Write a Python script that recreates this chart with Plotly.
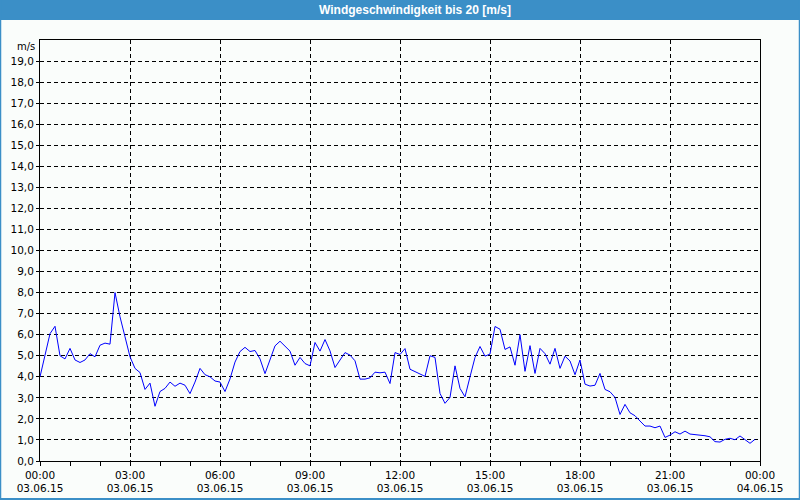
import pandas as pd
import plotly.graph_objects as go

# ---- data ----
start_time = "2015-06-03 00:00"
n_points = 144
wind_speed = [
    4.0, 5.1, 6.05, 6.4, 5.0, 4.85, 5.35, 4.8, 4.68, 4.8, 5.1, 4.95,
    5.5, 5.6, 5.55, 8.0, 6.85, 5.9, 4.95, 4.4, 4.2, 3.4, 3.7, 2.6,
    3.3, 3.45, 3.75, 3.55, 3.7, 3.6, 3.2, 3.75, 4.4, 4.1, 4.0, 3.8,
    3.75, 3.3, 3.9, 4.7, 5.2, 5.4, 5.2, 5.25, 4.85, 4.15, 4.8, 5.47,
    5.69, 5.45, 5.22, 4.55, 4.92, 4.63, 4.52, 5.63, 5.22, 5.77, 5.23, 4.44,
    4.79, 5.15, 5.03, 4.76, 3.89, 3.89, 3.95, 4.22, 4.19, 4.22, 3.68, 5.15,
    5.06, 5.34, 4.36, 4.24, 4.14, 4.02, 5.0, 4.92, 3.21, 2.74, 3.02, 4.52,
    3.45, 3.05, 4.0, 4.92, 5.44, 4.98, 5.08, 6.39, 6.26, 5.3, 5.42, 4.55,
    6.0, 4.26, 5.48, 4.16, 5.35, 5.1, 4.6, 5.35, 4.4, 4.98, 4.75, 4.1,
    4.8, 3.65, 3.56, 3.6, 4.16, 3.4, 3.29, 3.02, 2.21, 2.69, 2.29, 2.15,
    1.9, 1.66, 1.66, 1.58, 1.66, 1.12, 1.23, 1.39, 1.28, 1.42, 1.28, 1.26,
    1.23, 1.2, 1.15, 0.92, 0.9, 1.03, 1.08, 1.01, 1.19, 1.0, 0.84, 1.03,
]
times = pd.date_range(start_time, periods=n_points, freq="10min")

x_tick_vals = ["2015-06-03 00:00", "2015-06-03 03:00", "2015-06-03 06:00",
               "2015-06-03 09:00", "2015-06-03 12:00", "2015-06-03 15:00",
               "2015-06-03 18:00", "2015-06-03 21:00", "2015-06-04 00:00"]
x_tick_text = ["00:00<br>03.06.15", "03:00<br>03.06.15", "06:00<br>03.06.15",
               "09:00<br>03.06.15", "12:00<br>03.06.15", "15:00<br>03.06.15",
               "18:00<br>03.06.15", "21:00<br>03.06.15", "00:00<br>04.06.15"]
y_tick_vals = list(range(0, 20))

title_text = "Windgeschwindigkeit bis 20 [m/s]"
unit_text = "m/s"

# ---- style ----
W, H = 800, 500
ML, MR, MT, MB = 40, 40, 40, 39
blue = "#3b8fc7"
bg = "#fafdfb"
font = "DejaVu Sans"

fig = go.Figure()
fig.add_trace(go.Scatter(x=times, y=wind_speed, mode="lines",
                         line=dict(color="#0000ff", width=1),
                         hoverinfo="x+y", showlegend=False))

plot_h = H - MT - MB
plot_w = W - ML - MR

def px_to_paper_y(py):
    return (H - MB - py) / plot_h

def px_to_paper_x(px):
    return (px - ML) / plot_w

shapes = [
    # title bar
    dict(type="rect", xref="paper", yref="paper",
         x0=px_to_paper_x(0), x1=px_to_paper_x(W), y0=px_to_paper_y(20), y1=px_to_paper_y(0),
         fillcolor=blue, line=dict(width=0), layer="above"),
    # window border left/right/bottom
    dict(type="line", xref="paper", yref="paper",
         x0=px_to_paper_x(0.5), x1=px_to_paper_x(0.5), y0=px_to_paper_y(0), y1=px_to_paper_y(H),
         line=dict(color=blue, width=1.5)),
    dict(type="line", xref="paper", yref="paper",
         x0=px_to_paper_x(W - 0.5), x1=px_to_paper_x(W - 0.5), y0=px_to_paper_y(0), y1=px_to_paper_y(H),
         line=dict(color=blue, width=1.5)),
    dict(type="line", xref="paper", yref="paper",
         x0=px_to_paper_x(0), x1=px_to_paper_x(W), y0=px_to_paper_y(H - 1), y1=px_to_paper_y(H - 1),
         line=dict(color=blue, width=2)),
]

annotations = [
    dict(text="<b>" + title_text + "</b>", xref="paper", yref="paper",
         x=px_to_paper_x(415), y=px_to_paper_y(10), xanchor="center", yanchor="middle",
         showarrow=False, font=dict(family="Liberation Sans", size=12, color="white")),
    dict(text=unit_text, xref="paper", yref="paper",
         x=px_to_paper_x(37), y=px_to_paper_y(46), xanchor="right", yanchor="middle",
         showarrow=False, font=dict(family=font, size=10, color="black")),
]

fig.update_layout(
    template="none",
    width=W, height=H,
    margin=dict(l=ML, r=MR, t=MT, b=MB, pad=0),
    paper_bgcolor=bg, plot_bgcolor=bg,
    separators=",.",
    shapes=shapes, annotations=annotations,
    font=dict(family=font, size=10, color="black"),
    hovermode="closest",
    xaxis=dict(
        range=["2015-06-03 00:00", "2015-06-04 00:00"],
        tickvals=x_tick_vals, ticktext=x_tick_text,
        showgrid=True, gridcolor="black", gridwidth=1, griddash="4px,3px",
        showline=True, linecolor="black", linewidth=1, mirror=True,
        ticks="outside", ticklen=4, tickcolor="black",
        minor=dict(dtick=3600000, tick0="2015-06-03 00:00", ticks="outside",
                   ticklen=4, tickcolor="black", showgrid=False),
        zeroline=False, automargin=False, tickfont=dict(size=10.5),
    ),
    yaxis=dict(
        range=[0, 20], tickvals=y_tick_vals, tickformat=".1f",
        showgrid=True, gridcolor="black", gridwidth=1, griddash="4px,3px",
        showline=True, linecolor="black", linewidth=1, mirror=True,
        ticks="outside", ticklen=3, tickcolor="black",
        zeroline=False, automargin=False, tickfont=dict(size=10.5),
    ),
)

fig.write_html("out.html")
